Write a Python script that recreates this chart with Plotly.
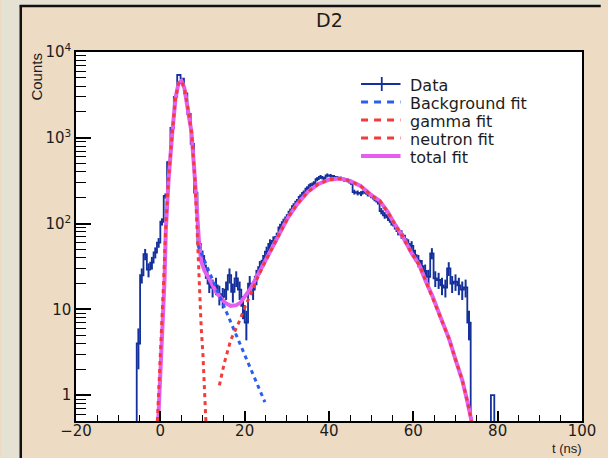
import numpy as np
import plotly.graph_objects as go

# ---------------- data ----------------
bin_start = -5.6      # lower edge of first filled bin (ns)
bin_width = 0.8       # ns
counts = [4, 25, 44, 29, 35, 46, 60, 105, 210, 520,
          1300, 3000, 5400, 4900, 3300, 1900, 850, 230, 58, 42,
          28, 20, 18, 19, 15, 14, 17, 25, 16, 23,
          17, 11, 7, 20, 17, 24, 31, 37, 47, 58,
          63, 70, 90, 104, 118, 138, 160, 180, 205, 228,
          256, 280, 295, 330, 350, 335, 365, 360, 350, 340,
          335, 325, 320, 300, 233, 228, 224, 238, 222, 212,
          196, 180, 140, 125, 118, 105, 95, 82, 75, 66,
          58, 55, 43, 37, 32, 28, 24, 45, 23, 22,
          19, 18, 30, 20, 21, 19, 17, 18, 7,
          0, 0, 0, 0, 0, 0, 1]

bg_t = [8.9, 11, 13, 15, 17, 19, 21, 23, 24.8]
bg_v = [56, 32, 19, 11, 6.5, 3.9, 2.3, 1.34, 0.83]

gamma_t = [-0.7, -0.2, 0.3, 0.8, 1.25, 1.9, 2.8, 3.6, 4.3, 5.0, 5.7, 6.5,
           7.4, 8.2, 8.7, 9.0, 9.3, 9.7, 10.1, 10.5, 10.8]
gamma_v = [0.5, 1.6, 6, 22, 84, 320, 1100, 2900, 4300, 4600, 3800, 2300,
           1150, 330, 90, 35, 15, 6, 3.0, 1.0, 0.5]

neutron_t = [14.0, 15.2, 16.7, 18.6, 20.2, 21.6, 23.0, 24.5, 26.0, 28.0,
             30.3, 32.5, 35.0, 37.5, 40.0, 42.5, 45.0, 47.5, 50.0, 52.0,
             54.0, 55.5, 57.5, 59.5, 61.4, 63.0, 64.6, 66.5, 68.5, 70.0,
             71.6, 72.8, 73.8]
neutron_v = [1.3, 2.4, 4.4, 7, 11, 16, 23, 33, 47, 72,
             118, 170, 235, 290, 325, 335, 315, 275, 215, 185,
             135, 100, 70, 46, 33, 21, 14, 8, 4.5, 2.6,
             1.5, 0.85, 0.5]

total_t = [-0.5, 0.0, 0.5, 1.0, 1.3, 1.95, 2.8, 3.6, 4.3, 5.0, 5.7, 6.5,
           7.4, 8.2, 8.55, 8.8, 9.2, 9.7, 10.5, 12.0, 13.2, 14.4, 15.5,
           16.7, 18.0, 19.0, 20.2, 21.4, 22.9, 24.5, 26.0, 28.0,
           30.3, 32.5, 35.0, 37.5, 40.0, 42.5, 45.0, 47.5, 50.0, 52.0,
           54.0, 55.5, 57.5, 59.5, 61.4, 63.0, 64.6, 66.5, 68.5, 70.0,
           71.6, 72.8, 73.8]
total_v = [0.5, 1.6, 6.3, 22, 84, 320, 1100, 2900, 4300, 4600, 3800, 2300,
           1150, 330, 190, 90, 58, 36, 28, 21, 16, 13.5, 11.8,
           11, 11.2, 12, 14.5, 17.5, 24, 34, 47, 72,
           118, 170, 235, 290, 325, 335, 315, 275, 215, 185,
           135, 100, 70, 46, 33, 21, 14, 8, 4.5, 2.6,
           1.5, 0.85, 0.5]

legend_names = ["Data", "Background fit", "gamma fit", "neutron fit", "total fit"]
y_tickvals = [1, 10, 100, 1000, 10000]
y_ticktext = ["1", "10", "10<sup>2</sup>", "10<sup>3</sup>", "10<sup>4</sup>"]

# ---------------- styles ----------------
C_DATA = "#14309a"
C_BG = "#2a5ef0"
C_RED = "#f23c3c"
C_TOT = "#e45ff0"
TXT = "#1c1c1c"
PAD = "#eedbc3"
OUTER = "#e5e1d3"
FLOOR = 1e-3

counts_arr = np.array(counts, dtype=float)
n = len(counts_arr)
edges = bin_start + bin_width * np.arange(n + 1)
centers = 0.5 * (edges[:-1] + edges[1:])
plot_counts = np.where(counts_arr > 0, counts_arr, FLOOR)
step_x = np.concatenate([[edges[0]], edges])
step_y = np.concatenate([[FLOOR], plot_counts, [FLOOR]])

fig = go.Figure()
fig.add_trace(go.Scatter(x=step_x, y=step_y, mode="lines", line_shape="hv",
                         line=dict(color=C_DATA, width=1.8), name="Data",
                         showlegend=False, hoverinfo="skip"))
mask = counts_arr > 1
fig.add_trace(go.Scatter(x=centers[mask], y=counts_arr[mask], mode="markers",
                         marker=dict(size=1, color=C_DATA),
                         error_y=dict(type="data", array=np.sqrt(counts_arr[mask]),
                                      color=C_DATA, thickness=2, width=0),
                         showlegend=False, hoverinfo="skip"))
fig.add_trace(go.Scatter(x=total_t, y=total_v, mode="lines",
                         line=dict(color=C_TOT, width=4), name="total fit",
                         showlegend=False))
fig.add_trace(go.Scatter(x=bg_t, y=bg_v, mode="lines",
                         line=dict(color=C_BG, width=3, dash="4px,4px"),
                         name="Background fit", showlegend=False))
fig.add_trace(go.Scatter(x=gamma_t, y=gamma_v, mode="lines",
                         line=dict(color=C_RED, width=3, dash="4px,4px"),
                         name="gamma fit", showlegend=False))
fig.add_trace(go.Scatter(x=neutron_t, y=neutron_v, mode="lines",
                         line=dict(color=C_RED, width=3, dash="4px,4px"),
                         name="neutron fit", showlegend=False))

# ---------------- frame / pad ----------------
W, H = 608, 458
L, R, T, B = 76, 19, 52, 37
pw, ph = W - L - R, H - T - B


def px(xp):
    return (xp - L) / pw


def py(yp):
    return (H - B - yp) / ph


shapes = [
    dict(type="rect", xref="paper", yref="paper", x0=px(0), x1=px(20), y0=py(H), y1=py(0),
         fillcolor=OUTER, line=dict(width=0), layer="below"),
    dict(type="rect", xref="paper", yref="paper", x0=px(0), x1=px(W), y0=py(6), y1=py(0),
         fillcolor=OUTER, line=dict(width=0), layer="below"),
    dict(type="line", xref="paper", yref="paper", x0=px(20), x1=px(20), y0=py(H), y1=py(5),
         line=dict(color="#111", width=2.5), layer="below"),
    dict(type="line", xref="paper", yref="paper", x0=px(19), x1=px(W), y0=py(6), y1=py(6),
         line=dict(color="#111", width=2.5), layer="below"),
]

# ---------------- manual legend ----------------
leg_x0, leg_x1, leg_tx = px(365), px(405), px(413)
rows = [84, 102, 120, 138, 156]
styles = [(C_DATA, 1.8, "solid"), (C_BG, 3, "7px,6px"), (C_RED, 3, "7px,6px"),
          (C_RED, 3, "7px,6px"), (C_TOT, 4, "solid")]
annotations = []
for name, yr, (col, wd, ds) in zip(legend_names, rows, styles):
    shapes.append(dict(type="line", xref="paper", yref="paper", x0=leg_x0, x1=leg_x1,
                       y0=py(yr), y1=py(yr), line=dict(color=col, width=wd, dash=ds)))
    annotations.append(dict(text=name, xref="paper", yref="paper", x=leg_tx, y=py(yr + 1),
                            xanchor="left", yanchor="middle", showarrow=False,
                            font=dict(family="DejaVu Sans", size=16, color=TXT)))
shapes.append(dict(type="line", xref="paper", yref="paper", x0=px(386), x1=px(386),
                   y0=py(rows[0] - 7), y1=py(rows[0] + 7),
                   line=dict(color=C_DATA, width=1.8)))

annotations += [
    dict(text="D2", xref="paper", yref="paper", x=0.5, y=py(20), xanchor="center",
         yanchor="middle", showarrow=False,
         font=dict(family="DejaVu Sans", size=19, color=TXT)),
    dict(text="Counts", xref="paper", yref="paper", x=px(35), y=py(77), xanchor="center",
         yanchor="middle", textangle=-90, showarrow=False,
         font=dict(family="Liberation Sans", size=15, color=TXT)),
    dict(text="t (ns)", xref="paper", yref="paper", x=px(591), y=py(448), xanchor="right",
         yanchor="middle", showarrow=False,
         font=dict(family="Liberation Sans", size=13, color=TXT)),
]

minor_y = [k * 10 ** d for d in range(-1, 4) for k in range(2, 10)]

fig.update_layout(
    width=W, height=H,
    margin=dict(l=L, r=R, t=T, b=B, pad=0),
    paper_bgcolor=PAD, plot_bgcolor="white",
    showlegend=False,
    shapes=shapes, annotations=annotations,
    xaxis=dict(range=[-20, 100], tick0=-20, dtick=20, ticks="inside", ticklen=10,
               tickwidth=1.5, tickcolor="black", showline=True, mirror=True,
               linecolor="black", linewidth=1.5, showgrid=False, zeroline=False,
               ticklabelstandoff=-5,
               tickfont=dict(family="DejaVu Sans", size=15, color=TXT),
               minor=dict(ticks="inside", ticklen=6, dtick=5, tick0=0,
                          tickcolor="black", tickwidth=1.2, showgrid=False)),
    yaxis=dict(type="log", range=[np.log10(0.5), 4], tickvals=y_tickvals,
               ticktext=y_ticktext, ticks="inside", ticklen=15, tickwidth=1.5,
               tickcolor="black", showline=True, mirror=True, linecolor="black",
               linewidth=1.5, showgrid=False, zeroline=False,
               tickfont=dict(family="DejaVu Sans", size=15, color=TXT),
               minor=dict(ticks="inside", ticklen=10, tickvals=minor_y,
                          tickcolor="black", tickwidth=1.2, showgrid=False)),
)

fig.write_html("out.html",
               config={"displayModeBar": False},
               post_script="document.body.style.margin='0px';"
                           "document.body.style.overflow='hidden';")
